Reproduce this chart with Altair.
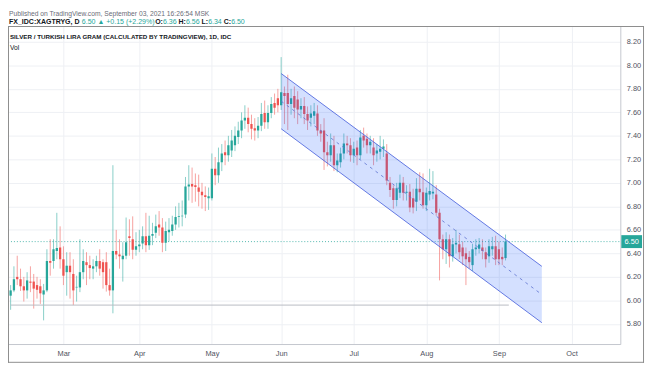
import altair as alt
import pandas as pd

# ---------------- data ----------------
bar_index = list(range(-16, 135))
open_ = [6.04, 6.085, 6.20, 6.18, 6.12, 6.085, 6.16, 6.16, 6.13, 6.12, 6.05, 6.085, 6.335, 6.335, 6.42, 6.45,
         6.35, 6.24, 6.295, 6.225, 6.11, 6.11, 6.24, 6.325, 6.30, 6.27, 6.29, 6.335, 6.325, 6.325, 6.13, 6.085,
         6.42, 6.39, 6.35, 6.38, 6.545, 6.52, 6.43, 6.46, 6.485, 6.545, 6.47, 6.55, 6.575, 6.645, 6.62, 6.49,
         6.58, 6.59, 6.645, 6.71, 6.715, 6.73, 6.97, 6.99, 6.98, 6.96, 6.925, 6.895, 6.87, 6.87, 7.12, 7.065,
         7.175, 7.26, 7.235, 7.276, 7.32, 7.39, 7.445, 7.53, 7.555, 7.50, 7.465, 7.445, 7.485, 7.595, 7.515, 7.595,
         7.68, 7.72, 7.66, 7.765, 7.765, 7.67, 7.74, 7.71, 7.625, 7.655, 7.585, 7.555, 7.57, 7.59, 7.445, 7.445,
         7.26, 7.235, 7.32, 7.15, 7.175, 7.25, 7.335, 7.32, 7.235, 7.30, 7.235, 7.40, 7.375, 7.32, 7.30, 7.25,
         7.265, 7.29, 7.25, 7.00, 6.955, 6.855, 6.915, 7.00, 6.915, 6.925, 6.87, 6.84, 6.95, 6.92, 6.81, 6.90,
         6.91, 6.90, 6.745, 6.52, 6.435, 6.52, 6.375, 6.475, 6.477, 6.45, 6.40, 6.37, 6.30, 6.435, 6.44, 6.45,
         6.41, 6.375, 6.435, 6.46, 6.435, 6.37, 6.36]
high = [6.13, 6.29, 6.38, 6.27, 6.20, 6.24, 6.29, 6.225, 6.20, 6.18, 6.14, 6.435, 6.52, 6.52, 6.745, 6.63,
        6.46, 6.41, 6.41, 6.35, 6.21, 6.52, 6.435, 6.41, 6.38, 6.35, 6.38, 6.435, 6.35, 6.41, 6.27, 7.15,
        6.60, 6.52, 6.495, 6.705, 6.69, 6.715, 6.58, 6.60, 6.63, 6.745, 6.72, 6.66, 6.73, 6.76, 6.70, 6.67,
        6.70, 6.72, 6.80, 6.83, 6.85, 7.05, 7.15, 7.13, 7.08, 7.07, 7.00, 6.97, 6.96, 7.25, 7.22, 7.30,
        7.33, 7.36, 7.40, 7.45, 7.48, 7.52, 7.60, 7.66, 7.64, 7.58, 7.55, 7.56, 7.68, 7.70, 7.66, 7.73,
        7.76, 7.80, 8.07, 7.82, 7.92, 7.80, 7.82, 7.78, 7.72, 7.73, 7.65, 7.66, 7.68, 7.66, 7.50, 7.55,
        7.35, 7.42, 7.40, 7.25, 7.30, 7.42, 7.40, 7.38, 7.35, 7.36, 7.45, 7.47, 7.42, 7.40, 7.38, 7.33,
        7.40, 7.37, 7.33, 7.05, 6.98, 7.00, 7.07, 7.05, 6.98, 6.99, 6.95, 7.04, 7.09, 7.08, 6.96, 7.12,
        7.10, 6.98, 6.78, 6.56, 6.58, 6.56, 6.53, 6.60, 6.56, 6.50, 6.45, 6.42, 6.48, 6.52, 6.53, 6.52,
        6.45, 6.52, 6.54, 6.55, 6.50, 6.45, 6.56]
low = [5.92, 6.07, 6.13, 6.08, 5.99, 6.015, 6.07, 5.93, 6.015, 5.97, 5.83, 6.07, 6.21, 6.27, 6.35, 6.27,
       6.13, 6.04, 6.015, 5.96, 5.99, 6.07, 6.18, 6.13, 6.18, 6.18, 6.24, 6.21, 6.10, 6.075, 6.04, 5.89,
       6.35, 6.27, 6.16, 6.35, 6.38, 6.35, 6.38, 6.41, 6.435, 6.41, 6.43, 6.47, 6.53, 6.55, 6.41, 6.42,
       6.50, 6.55, 6.60, 6.62, 6.63, 6.70, 6.85, 6.83, 6.84, 6.80, 6.78, 6.76, 6.77, 6.85, 6.98, 7.00,
       7.10, 7.15, 7.18, 7.22, 7.27, 7.33, 7.38, 7.46, 7.43, 7.37, 7.36, 7.38, 7.44, 7.46, 7.46, 7.55,
       7.58, 7.60, 7.62, 7.50, 7.45, 7.58, 7.55, 7.50, 7.55, 7.50, 7.45, 7.48, 7.50, 7.40, 7.35, 7.11,
       7.14, 7.18, 7.10, 7.09, 7.13, 7.20, 7.25, 7.18, 7.17, 7.15, 7.20, 7.30, 7.25, 7.25, 7.15, 7.18,
       7.20, 7.22, 6.98, 6.88, 6.78, 6.80, 6.87, 6.85, 6.85, 6.75, 6.74, 6.76, 6.85, 6.78, 6.76, 6.85,
       6.86, 6.72, 6.17, 6.35, 6.31, 6.28, 6.33, 6.40, 6.35, 6.30, 6.13, 6.27, 6.25, 6.38, 6.40, 6.35,
       6.28, 6.32, 6.38, 6.30, 6.30, 6.30, 6.34]
close = [6.085, 6.18, 6.18, 6.12, 6.085, 6.17, 6.15, 6.10, 6.09, 6.06, 6.085, 6.335, 6.32, 6.435, 6.445, 6.35,
         6.21, 6.295, 6.24, 6.085, 6.115, 6.24, 6.335, 6.30, 6.275, 6.29, 6.335, 6.27, 6.24, 6.13, 6.085, 6.42,
         6.39, 6.375, 6.38, 6.495, 6.53, 6.43, 6.46, 6.475, 6.545, 6.47, 6.55, 6.565, 6.63, 6.62, 6.49, 6.59,
         6.60, 6.645, 6.71, 6.715, 6.72, 6.97, 6.985, 6.97, 6.965, 6.925, 6.895, 6.88, 6.885, 7.12, 7.065, 7.175,
         7.25, 7.235, 7.32, 7.36, 7.40, 7.445, 7.53, 7.555, 7.50, 7.46, 7.445, 7.485, 7.585, 7.515, 7.595, 7.67,
         7.64, 7.66, 7.77, 7.74, 7.67, 7.72, 7.64, 7.625, 7.655, 7.585, 7.53, 7.59, 7.61, 7.445, 7.42, 7.26,
         7.235, 7.32, 7.15, 7.19, 7.25, 7.335, 7.32, 7.235, 7.29, 7.235, 7.385, 7.36, 7.32, 7.35, 7.235, 7.275,
         7.29, 7.31, 7.02, 6.94, 6.855, 6.955, 7.00, 6.915, 6.925, 6.79, 6.79, 6.95, 6.92, 6.81, 6.915, 6.93,
         6.925, 6.745, 6.52, 6.435, 6.52, 6.375, 6.477, 6.49, 6.41, 6.375, 6.35, 6.325, 6.435, 6.45, 6.475, 6.42,
         6.35, 6.46, 6.46, 6.35, 6.35, 6.35, 6.50]

month_labels = ["Mar", "Apr", "May", "Jun", "Jul", "Aug", "Sep", "Oct"]
month_bar_index = [0, 23, 45, 66, 88, 110, 132, 154]
price_ticks = [5.8, 6.0, 6.2, 6.4, 6.6, 6.8, 7.0, 7.2, 7.4, 7.6, 7.8, 8.0, 8.2]

channel_index = [66, 145]
channel_upper = [7.93, 6.29]
channel_mid = [7.695, 6.05]
channel_lower = [7.46, 5.81]

support_level = 5.96
support_index = [-16, 135]
last_price = 6.50

published_text = "Published on TradingView.com, September 03, 2021 16:26:54 MSK"
symbol_title = "SILVER / TURKISH LIRA GRAM (CALCULATED BY TRADINGVIEW), 1D, IDC"
vol_text = "Vol"
# header line pieces: (text, colour key, bold)
header_pieces = [
    ("FX_IDC:XAGTRYG, D", "dark", True),
    ("6.50 \u25B2 +0.15 (+2.29%)", "teal", False),
    ("O:", "dark", True), ("6.36", "teal", False),
    ("H:", "dark", True), ("6.56", "teal", False),
    ("L:", "dark", True), ("6.34", "teal", False),
    ("C:", "dark", True), ("6.50", "teal", False),
]

# ---------------- style ----------------
UP = "#26a69a"
DOWN = "#ef5350"
BLUE = "#2962ff"
GRID = "#eef0f4"
SEP = "#c4c7ce"
FRAME = "#8c8c8c"
TXT = "#131722"
AXTXT = "#50535e"
FONT = "Liberation Sans"

# approximate Arial/Liberation advance widths (per 1000 em) for laying out header pieces
_REG = {**{d: 556 for d in "0123456789"}, ".": 278, "+": 584, "(": 333, ")": 333, "%": 889, " ": 278,
        "\u25B2": 780}
_BOLD = {"F": 611, "X": 667, "_": 556, "I": 278, "D": 722, "C": 722, ":": 333, "A": 722, "G": 778,
         "T": 611, "R": 722, "Y": 667, ",": 278, " ": 278, "O": 778, "H": 722, "L": 611}


def text_width(s, bold, size):
    table = _BOLD if bold else _REG
    return sum(table.get(ch, 600) for ch in s) * size / 1000.0


W, H = 620, 322
xs = alt.Scale(domain=[-15.3, 167.3], nice=False, zero=False)
ys = alt.Scale(domain=[5.6286, 8.3345], nice=False, zero=False)

month_expr = " : ".join(
    f"datum.value == {i} ? '{m}'" for i, m in zip(month_bar_index, month_labels)
) + " : ''"

xaxis = alt.Axis(values=month_bar_index, labelExpr=month_expr, grid=True, gridColor=GRID,
                 ticks=False, domain=True, domainColor=SEP, labelFontSize=7.5, labelColor=AXTXT,
                 labelFont=FONT, labelPadding=6, labelFlush=False, title=None)
yaxis = alt.Axis(orient="right", values=price_ticks, format=".2f", grid=True, gridColor=GRID,
                 ticks=False, domain=True, domainColor=SEP, labelFontSize=7.5, labelColor=AXTXT,
                 labelFont=FONT, labelPadding=6, labelAlign="left", title=None)


def X(field):
    return alt.X(field, type="quantitative", scale=xs, axis=xaxis)


def Y(field):
    return alt.Y(field, type="quantitative", scale=ys, axis=yaxis)


df = pd.DataFrame({"i": bar_index, "open": open_, "high": high, "low": low, "close": close})
df["dir"] = ["up" if c >= o else "down" for o, c in zip(df["open"], df["close"])]
color = alt.Color("dir:N", scale=alt.Scale(domain=["up", "down"], range=[UP, DOWN]), legend=None)

one = pd.DataFrame({"a": [0]})

wicks = alt.Chart(df).mark_rule(strokeWidth=1, opacity=0.55, clip=True).encode(
    x=X("i"), y=Y("low"), y2="high:Q", color=color,
)
bodies = alt.Chart(df).mark_bar(width=2.3, clip=True).encode(
    x=X("i"), y=Y("open"), y2="close:Q", color=color,
)

sup_df = pd.DataFrame({"x1": [support_index[0]], "x2": [support_index[1]], "y": [support_level]})
support = alt.Chart(sup_df).mark_rule(color="#b8bbc2", strokeWidth=1, clip=True).encode(
    x=X("x1"), x2="x2:Q", y=Y("y"),
)

last_df = pd.DataFrame({"y": [last_price], "y1": [last_price + 0.055], "y2": [last_price - 0.055],
                        "label": [f"{last_price:.2f}"]})
last_line = alt.Chart(last_df).mark_rule(color=UP, strokeWidth=1, strokeDash=[1, 2], opacity=0.8).encode(
    y=Y("y"), x=alt.value(0), x2=alt.value(W),
)

ch_df = pd.DataFrame({"i": channel_index, "up": channel_upper, "mid": channel_mid, "lo": channel_lower})
ch_area = alt.Chart(ch_df).mark_area(color=BLUE, opacity=0.2).encode(
    x=X("i"), y=Y("up"), y2="lo:Q",
)
ch_long = pd.DataFrame({
    "i": channel_index * 2,
    "p": channel_upper + channel_lower,
    "edge": ["upper"] * 2 + ["lower"] * 2,
})
ch_lines = alt.Chart(ch_long).mark_line(color="#4a62dc", strokeWidth=1, opacity=0.85).encode(
    x=X("i"), y=Y("p"), detail="edge:N",
)
ch_mid = alt.Chart(ch_df).mark_line(color="#5a6fcf", strokeWidth=1, strokeDash=[3, 4], opacity=0.8).encode(
    x=X("i"), y=Y("mid"),
)

price_box = alt.Chart(last_df).mark_rect(color=UP).encode(
    x=alt.value(621), x2=alt.value(642), y=Y("y1"), y2="y2:Q",
)
price_box_text = alt.Chart(last_df).mark_text(color="white", fontSize=7.5, font=FONT, align="center",
                                              baseline="middle").encode(
    x=alt.value(631.5), y=Y("y"), text="label:N",
)


def txt(text, x, y, color, bold=False, size=7.0):
    return alt.Chart(one).mark_text(
        text=text, align="left", baseline="alphabetic", fontSize=size, font=FONT,
        fontWeight="bold" if bold else "normal", color=color,
    ).encode(x=alt.value(x), y=alt.value(y))


texts = [txt(published_text, 1, -10, "#6a6d78", size=6.8),
         txt(symbol_title, 2, 13, TXT, bold=True, size=6.3),
         txt(vol_text, 2, 24, TXT, size=6.8)]
cols = {"dark": TXT, "teal": UP}
HS = 7.1
cx = 1.0
for t, c, b in header_pieces:
    texts.append(txt(t, cx, -2, cols[c], bold=b, size=HS))
    cx += text_width(t, b, HS) + (0 if t.endswith(":") else text_width(" ", False, HS))

frame = [
    alt.Chart(one).mark_rule(color=FRAME, strokeWidth=1).encode(
        x=alt.value(0), x2=alt.value(644), y=alt.value(0.5)),
    alt.Chart(one).mark_rule(color=FRAME, strokeWidth=1).encode(
        x=alt.value(0.5), y=alt.value(0), y2=alt.value(341)),
    alt.Chart(one).mark_rule(color=FRAME, strokeWidth=1).encode(
        x=alt.value(643.5), y=alt.value(0), y2=alt.value(341)),
    alt.Chart(one).mark_rule(color=FRAME, strokeWidth=1).encode(
        x=alt.value(0), x2=alt.value(644), y=alt.value(340.5)),
]

chart = alt.layer(
    wicks, support, last_line, bodies, ch_area, ch_lines, ch_mid, price_box, price_box_text,
    *texts, *frame
).properties(
    width=W, height=H,
    padding={"left": 0, "top": 16, "right": 26, "bottom": 20},
    autosize=alt.AutoSizeParams(type="none"),
    background="white",
).configure_view(strokeWidth=0)

chart.save("out.html", embed_options={"renderer": "svg", "actions": False})
